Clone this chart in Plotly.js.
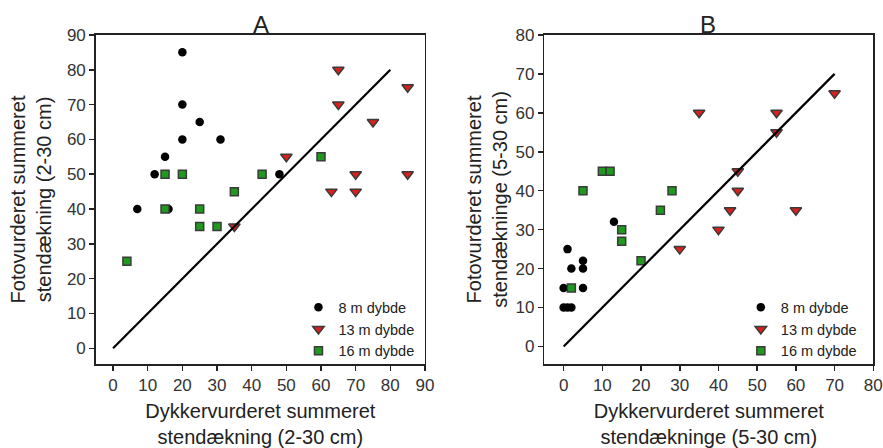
<!DOCTYPE html>
<html>
<head>
<meta charset="utf-8">
<script src="https://cdn.plot.ly/plotly-3.0.1.min.js"></script>
<style>html,body{margin:0;padding:0;background:#fff;}#chart{width:883px;height:448px;}</style>
</head>
<body>
<div id="chart"></div>
<script>
// ---- Data: panel A (2-30 cm) ----
const seriesNames = ["8 m dybde", "13 m dybde", "16 m dybde"];
const panelTitles = ["A", "B"];

const x8A  = [20, 20, 25, 20, 31, 15, 12, 48, 7, 16];
const y8A  = [85, 70, 65, 60, 60, 55, 50, 50, 40, 40];
const x13A = [65, 85, 65, 75, 50, 70, 85, 63, 70, 35];
const y13A = [80, 75, 70, 65, 55, 50, 50, 45, 45, 35];
const x16A = [4, 15, 20, 15, 25, 25, 30, 35, 43, 60];
const y16A = [25, 50, 50, 40, 40, 35, 35, 45, 50, 55];
const lineA = [0, 80];

// ---- Data: panel B (5-30 cm) ----
const x8B  = [1, 2, 5, 5, 0, 5, 0, 1, 2, 13];
const y8B  = [25, 20, 22, 20, 15, 15, 10, 10, 10, 32];
const x13B = [35, 55, 55, 70, 45, 45, 43, 40, 30, 60];
const y13B = [60, 60, 55, 65, 45, 40, 35, 30, 25, 35];
const x16B = [2, 5, 10, 12, 15, 15, 20, 25, 28];
const y16B = [15, 40, 45, 45, 30, 27, 22, 35, 40];
const lineB = [0, 70];

const xTitleA = "Dykkervurderet summeret<br>stendækning (2-30 cm)";
const yTitleA = "Fotovurderet summeret<br>stendækning (2-30 cm)";
const xTitleB = "Dykkervurderet summeret<br>stendækninge (5-30 cm)";
const yTitleB = "Fotovurderet summeret<br>stendækninge (5-30 cm)";

const FONT = "Liberation Sans, Arial, sans-serif";
const circleMarker = {symbol: "circle", size: 8.5, color: "#000000", line: {width: 0}};
const triMarker = {symbol: "triangle-down", size: 10, color: "#d8201c", line: {width: 1.5, color: "#3a3a3a"}};
const sqMarker = {symbol: "square", size: 8, color: "#1f9a1f", line: {width: 1.5, color: "#3a3a3a"}};

function panel(xs, ys, ax, ay, leg, line) {
  return [
    {type: "scatter", mode: "markers", x: xs[0], y: ys[0], xaxis: ax, yaxis: ay, name: seriesNames[0], marker: circleMarker, legend: leg},
    {type: "scatter", mode: "markers", x: xs[1], y: ys[1], xaxis: ax, yaxis: ay, name: seriesNames[1], marker: triMarker, legend: leg},
    {type: "scatter", mode: "markers", x: xs[2], y: ys[2], xaxis: ax, yaxis: ay, name: seriesNames[2], marker: sqMarker, legend: leg},
    {type: "scatter", mode: "lines", x: line, y: line, xaxis: ax, yaxis: ay, showlegend: false, line: {color: "#000000", width: 2.2}, hoverinfo: "skip"}
  ];
}

const data = [].concat(
  panel([x8A, x13A, x16A], [y8A, y13A, y16A], "x", "y", "legend", lineA),
  panel([x8B, x13B, x16B], [y8B, y13B, y16B], "x2", "y2", "legend2", lineB)
);

function axis(extra) {
  return Object.assign({
    showgrid: false, zeroline: false, showline: true, mirror: true,
    linecolor: "#222", linewidth: 1.5, ticks: "outside", ticklen: 5, tickwidth: 1.5, tickcolor: "#222",
    dtick: 10, tick0: 0, tickfont: {family: FONT, size: 17, color: "#333"}, automargin: false, fixedrange: true
  }, extra);
}

const yDom = [0.1875, 0.922];
const layout = {
  width: 883, height: 448,
  margin: {l: 0, r: 0, t: 0, b: 0},
  paper_bgcolor: "#ffffff", plot_bgcolor: "#ffffff",
  font: {family: FONT, color: "#222"},
  xaxis: axis({domain: [0.1084, 0.4813], range: [-5, 90], anchor: "y",
    title: {text: xTitleA, font: {family: FONT, size: 20, color: "#222"}, standoff: 11}}),
  yaxis: axis({domain: yDom, range: [-4.5, 90], anchor: "x",
    title: {text: yTitleA, font: {family: FONT, size: 20, color: "#222"}, standoff: 10}}),
  xaxis2: axis({domain: [0.6164, 0.989], range: [-5, 80], anchor: "y2",
    title: {text: xTitleB, font: {family: FONT, size: 20, color: "#222"}, standoff: 11}}),
  yaxis2: axis({domain: yDom, range: [-4.5, 80], anchor: "x2",
    title: {text: yTitleB, font: {family: FONT, size: 20, color: "#222"}, standoff: 2}}),
  legend: {x: 0.338, y: 0.35, xanchor: "left", yanchor: "top", bgcolor: "rgba(0,0,0,0)",
    font: {family: FONT, size: 14.5, color: "#222"}, tracegroupgap: 0},
  legend2: {x: 0.839, y: 0.35, xanchor: "left", yanchor: "top", bgcolor: "rgba(0,0,0,0)",
    font: {family: FONT, size: 14.5, color: "#222"}, tracegroupgap: 0},
  annotations: [
    {text: panelTitles[0], xref: "paper", yref: "paper", x: 0.296, y: 0.945, xanchor: "center", yanchor: "middle", showarrow: false, font: {family: FONT, size: 24, color: "#222"}},
    {text: panelTitles[1], xref: "paper", yref: "paper", x: 0.802, y: 0.945, xanchor: "center", yanchor: "middle", showarrow: false, font: {family: FONT, size: 24, color: "#222"}}
  ],
  showlegend: true
};

Plotly.newPlot("chart", data, layout, {staticPlot: true, displayModeBar: false});
</script>
</body>
</html>
